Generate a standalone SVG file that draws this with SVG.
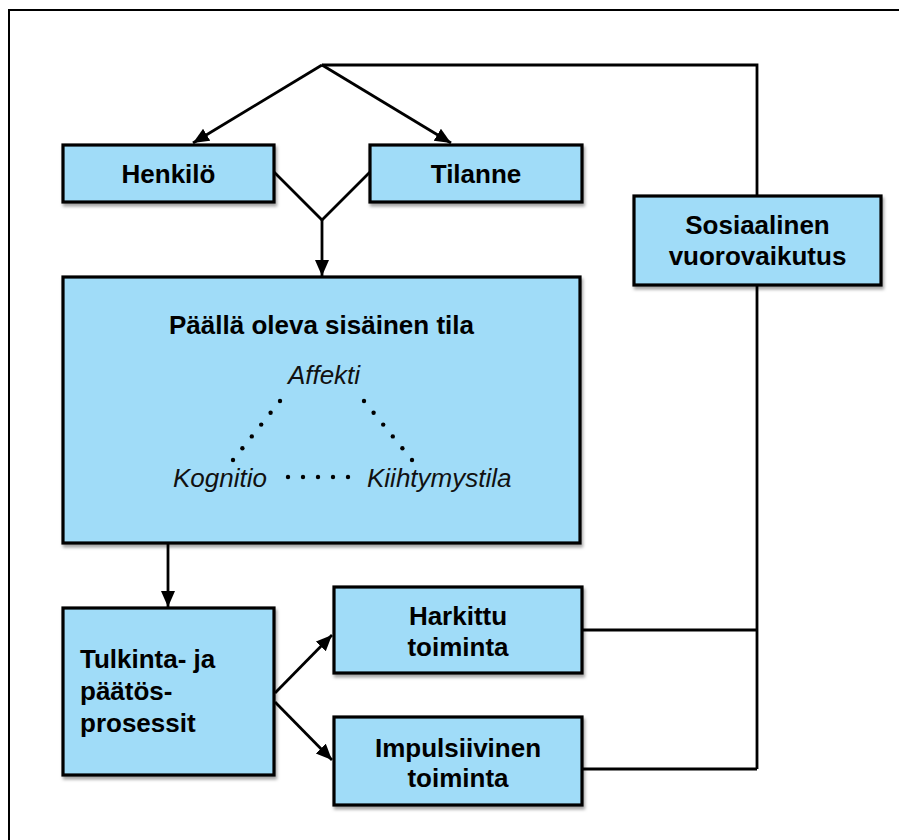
<svg xmlns="http://www.w3.org/2000/svg" width="899" height="840" viewBox="0 0 899 840">
<defs>
<style>
.box{fill:#a0dcf8;stroke:#000;stroke-width:3.2;filter:url(#sh)}
.t{font-family:"Liberation Sans",Arial,Helvetica,sans-serif;font-weight:bold;font-size:26px;fill:#000}
.c{text-anchor:middle}
.i{font-family:"Liberation Sans",Arial,Helvetica,sans-serif;font-style:italic;font-size:26px;fill:#111}
.ln{fill:none;stroke:#000;stroke-width:2.8}
.ar{marker-end:url(#ah)}
.dot{fill:#000}
</style>
<filter id="sh" x="-10%" y="-10%" width="130%" height="130%">
<feDropShadow dx="1.5" dy="3" stdDeviation="1.5" flood-color="#000" flood-opacity="0.35"/>
</filter>
<marker id="ah" markerUnits="userSpaceOnUse" markerWidth="18" markerHeight="16" refX="16" refY="7" orient="auto">
<path d="M0,0 L16,7 L0,14 z" fill="#000"/>
</marker>
</defs>
<rect width="899" height="840" fill="#fff"/>
<path d="M9,840 V10 H899" fill="none" stroke="#000" stroke-width="2"/>

<g id="connectors">
<path class="ln" d="M322,65 H757 V196"/>
<path class="ln" d="M757,285 V769"/>
<path class="ln ar" d="M322,65 L193,143"/>
<path class="ln ar" d="M322,65 L451,143"/>
<path class="ln" d="M274,172 L322,220 L370,172"/>
<path class="ln ar" d="M322,220 V276"/>
<path class="ln ar" d="M168,544 V607"/>
<path class="ln ar" d="M275,693 L332,635"/>
<path class="ln ar" d="M275,702 L332,760"/>
<path class="ln" d="M583,630 H757"/>
<path class="ln" d="M583,769 H757"/>
</g>

<g id="henkilo">
<rect class="box" x="63" y="145" width="211" height="57"/>
<text class="t c" x="168.5" y="183">Henkilö</text>
</g>
<g id="tilanne">
<rect class="box" x="370" y="145" width="212" height="57"/>
<text class="t c" x="476" y="183">Tilanne</text>
</g>
<g id="sosiaalinen">
<rect class="box" x="634" y="196" width="247" height="89"/>
<text class="t c" x="757.5" y="234">Sosiaalinen</text>
<text class="t c" x="757.5" y="265">vuorovaikutus</text>
</g>
<g id="sisainen-tila">
<rect class="box" x="63" y="277" width="517" height="266"/>
<text class="t c" x="321.5" y="334">Päällä oleva sisäinen tila</text>
<text class="i c" x="324" y="384">Affekti</text>
<text class="i" x="173" y="487">Kognitio</text>
<text class="i" x="367" y="487">Kiihtymystila</text>
<g class="dot">
<circle cx="280" cy="401" r="2.2"/><circle cx="270.6" cy="412.8" r="2.2"/><circle cx="261.2" cy="424.6" r="2.2"/><circle cx="251.8" cy="436.4" r="2.2"/><circle cx="242.4" cy="448.2" r="2.2"/><circle cx="233" cy="460" r="2.2"/>
<circle cx="364" cy="401" r="2.2"/><circle cx="373.6" cy="412.8" r="2.2"/><circle cx="383.2" cy="424.6" r="2.2"/><circle cx="392.8" cy="436.4" r="2.2"/><circle cx="402.4" cy="448.2" r="2.2"/><circle cx="412" cy="460" r="2.2"/>
<circle cx="288" cy="477" r="2.2"/><circle cx="303" cy="477" r="2.2"/><circle cx="318" cy="477" r="2.2"/><circle cx="333" cy="477" r="2.2"/><circle cx="348" cy="477" r="2.2"/>
</g>
</g>
<g id="tulkinta">
<rect class="box" x="63" y="608" width="211" height="167"/>
<text class="t" x="80" y="668">Tulkinta- ja</text>
<text class="t" x="80" y="700">päätös-</text>
<text class="t" x="80" y="732">prosessit</text>
</g>
<g id="harkittu">
<rect class="box" x="334" y="587" width="248" height="86"/>
<text class="t c" x="458" y="625">Harkittu</text>
<text class="t c" x="458" y="656">toiminta</text>
</g>
<g id="impulsiivinen">
<rect class="box" x="334" y="717" width="248" height="88"/>
<text class="t c" x="458" y="757">Impulsiivinen</text>
<text class="t c" x="458" y="787">toiminta</text>
</g>
</svg>
